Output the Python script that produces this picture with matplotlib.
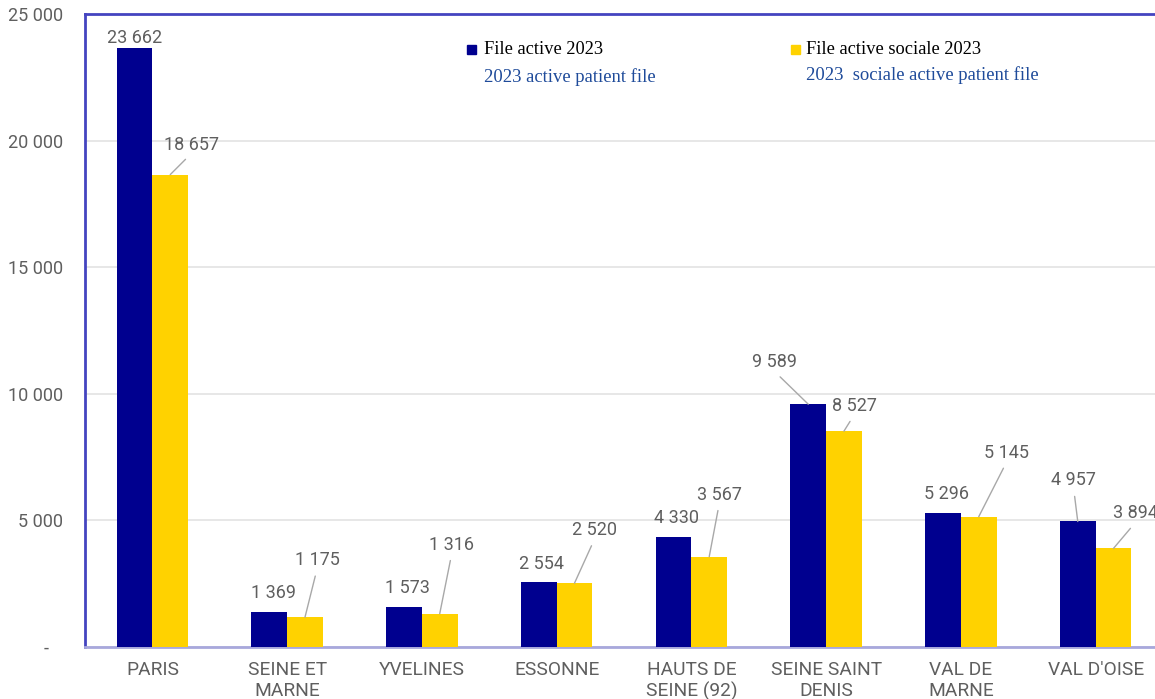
import matplotlib
matplotlib.use("Agg")
import matplotlib.pyplot as plt
import numpy as np

# données
departements = ["PARIS", "SEINE ET\nMARNE", "YVELINES", "ESSONNE", "HAUTS DE\nSEINE (92)",
                "SEINE SAINT\nDENIS", "VAL DE\nMARNE", "VAL D'OISE"]
file_active = [23662, 1369, 1573, 2554, 4330, 9589, 5296, 4957]
file_sociale = [18657, 1175, 1316, 2520, 3567, 8527, 5145, 3894]
yticks = [0, 5000, 10000, 15000, 20000, 25000]
ytick_labels = ["-   ", "5 000", "10 000", "15 000", "20 000", "25 000"]

# décalages des étiquettes (pixels) et présence d'un trait de rappel
off_active = [(0, 10), (4, 19), (3, 19), (3, 18), (3, 19), (-34, 42), (3, 19), (-4, 41)]
lead_active = [False, False, False, False, False, True, False, True]
off_sociale = [(21, 30), (12, 57), (12, 69), (20, 53), (10, 62), (10, 25), (28, 64), (22, 35)]
lead_sociale = [True] * 8

BLEU = "#00008f"
JAUNE = "#ffd200"
GRIS = "#5f5f5f"


def fmt(v):
    return f"{v:,}".replace(",", " ")


plt.rcParams["font.family"] = ["Roboto", "DejaVu Sans"]
fig = plt.figure(figsize=(11.55, 6.99), dpi=100)
ax = fig.add_axes([85 / 1155, 52 / 699, 1078 / 1155, 633 / 699])

x = np.arange(len(departements))
w = 0.265
b1 = ax.bar(x - w / 2, file_active, w, color=BLEU, zorder=3)
b2 = ax.bar(x + w / 2, file_sociale, w, color=JAUNE, zorder=3)

for bars, vals, offs, leads in [(b1, file_active, off_active, lead_active),
                                (b2, file_sociale, off_sociale, lead_sociale)]:
    for bar, v, (dx, dy), lead in zip(bars, vals, offs, leads):
        xc = bar.get_x() + bar.get_width() / 2
        kw = {}
        if lead:
            kw["arrowprops"] = dict(arrowstyle="-", color="#a8a8a8", lw=1,
                                    shrinkA=3, shrinkB=0, relpos=(0.5, 0))
        ax.annotate(fmt(v), xy=(xc, v), xytext=(dx, dy), textcoords="offset pixels",
                    ha="center", va="center", fontsize=13, color=GRIS,
                    annotation_clip=False, **kw)

ax.set_xlim(-0.5, len(departements) - 0.5)
ax.set_ylim(0, 25000)
ax.set_yticks(yticks)
ax.set_yticklabels(ytick_labels)
ax.set_xticks(x)
ax.set_xticklabels(departements)
ax.tick_params(axis="y", length=0, labelsize=13, labelcolor=GRIS, pad=16)
ax.tick_params(axis="x", length=0, labelsize=13.8, labelcolor=GRIS, pad=10)
ax.grid(axis="y", color="#e3e3e3", lw=1.2, zorder=0)

for s in ["left", "top"]:
    ax.spines[s].set_color("#4444c0")
    ax.spines[s].set_linewidth(2)
ax.spines["bottom"].set_color("#a8a8dc")
ax.spines["bottom"].set_linewidth(2)
ax.spines["right"].set_visible(False)

# légende bilingue faite à la main
serif = ["Liberation Serif", "DejaVu Serif"]
fig.patches.append(plt.Rectangle((467 / 1155, 1 - 54 / 699), 9 / 1155, 9 / 699,
                                 transform=fig.transFigure, color=BLEU))
fig.patches.append(plt.Rectangle((791 / 1155, 1 - 54 / 699), 9 / 1155, 9 / 699,
                                 transform=fig.transFigure, color=JAUNE))
fig.text(484 / 1155, 1 - 50 / 699, "File active 2023", family=serif, fontsize=13.2,
         color="black", va="center")
fig.text(484 / 1155, 1 - 77 / 699, "2023 active patient file", family=serif, fontsize=13.4,
         color="#1f4b9a", va="center")
fig.text(806 / 1155, 1 - 50 / 699, "File active sociale 2023", family=serif, fontsize=13.2,
         color="black", va="center")
fig.text(806 / 1155, 1 - 75 / 699, "2023  sociale active patient file", family=serif,
         fontsize=13.4, color="#1f4b9a", va="center")

fig.savefig("out.png", dpi=100, facecolor="white")
